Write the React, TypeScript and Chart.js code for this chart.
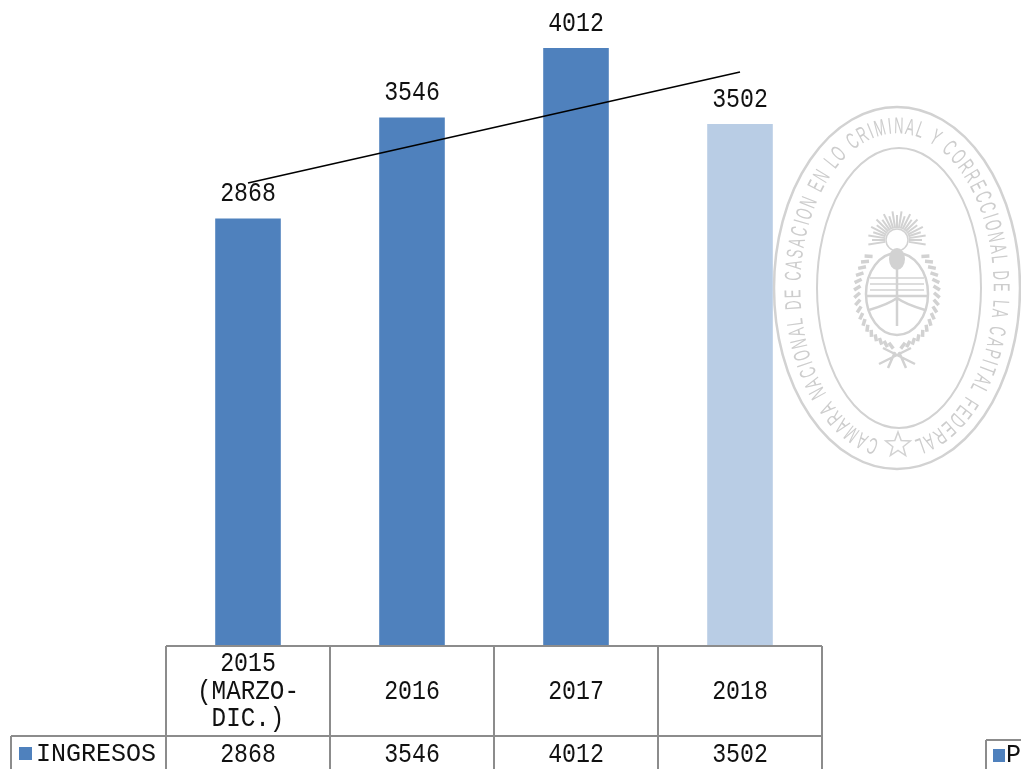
import React, { useEffect, useRef } from "react";
import { Chart, registerables } from "chart.js";

Chart.register(...registerables);

const categories: string[][] = [["2015", "(MARZO-", "DIC.)"], ["2016"], ["2017"], ["2018"]];
const ingresos: number[] = [2868, 3546, 4012, 3502];
const trendEnds: (number | null)[] = [3106, null, null, 3851];
const barColors: string[] = ["#4F81BD", "#4F81BD", "#4F81BD", "#B9CDE5"];
const seriesName = "INGRESOS";
const clippedLegendText = "P";
const stampText = "CAMARA NACIONAL DE CASACION EN LO CRIMINAL Y CORRECCIONAL DE LA CAPITAL FEDERAL";

const FONT = '"Liberation Mono", monospace';
const GRID = "#8C8C8C";
const INK = "#111111";
const STAMP = "#D2D2D2";

// typewriter digits are taller than Liberation Mono's at the same advance
function squeezedText(c: CanvasRenderingContext2D, text: string, x: number, y: number, sx = 0.86) {
  c.save();
  c.translate(x, y);
  c.scale(sx, 1);
  c.font = `27px ${FONT}`;
  c.textAlign = "center";
  c.textBaseline = "middle";
  c.fillText(text, 0, 0);
  c.restore();
}

function drawStar(c: CanvasRenderingContext2D, x: number, y: number, r: number) {
  c.beginPath();
  for (let i = 0; i < 10; i++) {
    const a = -Math.PI / 2 + (i * Math.PI) / 5;
    const rad = i % 2 === 0 ? r : r * 0.42;
    const px = x + rad * Math.cos(a);
    const py = y + rad * Math.sin(a);
    if (i === 0) c.moveTo(px, py);
    else c.lineTo(px, py);
  }
  c.closePath();
  c.stroke();
}

function drawArms(c: CanvasRenderingContext2D, x: number, y: number) {
  c.strokeStyle = STAMP;
  // sun rays
  c.lineWidth = 2;
  for (let i = 0; i <= 22; i++) {
    const a = Math.PI * 0.95 + (i / 22) * Math.PI * 1.1;
    const outer = i % 2 === 0 ? 29 : 25;
    c.beginPath();
    c.moveTo(x + 12 * Math.cos(a), y - 50 + 12 * Math.sin(a));
    c.lineTo(x + outer * Math.cos(a), y - 50 + outer * Math.sin(a));
    c.stroke();
  }
  // sun face
  c.lineWidth = 1.5;
  c.beginPath();
  c.arc(x, y - 50, 11, 0, Math.PI * 2);
  c.stroke();
  // shield
  c.lineWidth = 2.5;
  c.beginPath();
  c.ellipse(x, y + 4, 31, 41, 0, 0, Math.PI * 2);
  c.stroke();
  c.beginPath();
  c.moveTo(x - 31, y + 6);
  c.lineTo(x + 31, y + 6);
  c.stroke();
  // upper band texture
  c.lineWidth = 1.5;
  for (let i = 0; i < 3; i++) {
    c.beginPath();
    c.moveTo(x - 27, y - 12 + i * 6);
    c.lineTo(x + 27, y - 12 + i * 6);
    c.stroke();
  }
  // hands and pike
  c.lineWidth = 2.5;
  c.beginPath();
  c.moveTo(x - 28, y + 20);
  c.quadraticCurveTo(x - 8, y + 14, x, y + 8);
  c.quadraticCurveTo(x + 8, y + 14, x + 28, y + 20);
  c.moveTo(x, y - 26);
  c.lineTo(x, y + 36);
  c.stroke();
  // cap
  c.fillStyle = STAMP;
  c.beginPath();
  c.ellipse(x, y - 31, 8, 11, 0, 0, Math.PI * 2);
  c.fill();
  // wreath
  c.lineWidth = 3.5;
  for (const side of [-1, 1]) {
    for (let i = 0; i < 17; i++) {
      const a = -0.85 + (i / 16) * 2.2;
      const px = x + side * 37 * Math.cos(a);
      const py = y + 4 + 50 * Math.sin(a);
      c.beginPath();
      c.moveTo(px, py);
      c.lineTo(px + side * 8 * Math.cos(a + 0.8), py + 7 * Math.sin(a + 0.8));
      c.stroke();
    }
  }
  // ribbon
  c.lineWidth = 2.5;
  c.beginPath();
  c.moveTo(x - 18, y + 74);
  c.lineTo(x + 14, y + 58);
  c.moveTo(x + 18, y + 74);
  c.lineTo(x - 14, y + 58);
  c.moveTo(x - 2, y + 62);
  c.lineTo(x - 9, y + 78);
  c.moveTo(x + 2, y + 62);
  c.lineTo(x + 9, y + 78);
  c.stroke();
}

function drawStamp(c: CanvasRenderingContext2D) {
  const cx = 897;
  const cy = 288;
  c.save();
  c.strokeStyle = STAMP;
  c.lineWidth = 2.5;
  c.beginPath();
  c.ellipse(cx, cy, 123, 181, 0, 0, Math.PI * 2);
  c.stroke();
  c.lineWidth = 2;
  c.beginPath();
  c.ellipse(cx + 2, cy, 82, 140, 0, 0, Math.PI * 2);
  c.stroke();

  // text along an elliptical path, spaced by arc length
  const rx = 103;
  const ry = 161;
  const steps = 1440;
  const startT = Math.PI / 2 + 0.19;
  const sweep = Math.PI * 2 - 0.38;
  const lengths: number[] = [0];
  const pt = (t: number) => [cx + rx * Math.cos(t), cy + ry * Math.sin(t)];
  for (let i = 1; i <= steps; i++) {
    const [x0, y0] = pt(startT + (sweep * (i - 1)) / steps);
    const [x1, y1] = pt(startT + (sweep * i) / steps);
    lengths.push(lengths[i - 1] + Math.hypot(x1 - x0, y1 - y0));
  }
  const total = lengths[steps];
  c.font = '23px "Liberation Sans", sans-serif';
  c.fillStyle = "#CDCDCD";
  c.textAlign = "center";
  c.textBaseline = "middle";
  const hScale = 0.56;
  const chars = stampText.split("");
  const widths = chars.map((ch) => c.measureText(ch).width * hScale);
  const sum = widths.reduce((a, b) => a + b, 0);
  const gap = (total - sum) / (chars.length - 1);
  let s = 0;
  chars.forEach((ch, i) => {
    const mid = s + widths[i] / 2;
    let k = 0;
    while (k < steps && lengths[k] < mid) k++;
    const t = startT + (sweep * k) / steps;
    const [x, y] = pt(t);
    const ang = Math.atan2(ry * Math.cos(t), -rx * Math.sin(t));
    c.save();
    c.translate(x, y);
    c.rotate(ang);
    c.scale(hScale, 1);
    c.fillText(ch, 0, 0);
    c.restore();
    s += widths[i] + gap;
  });

  c.lineWidth = 1.5;
  drawStar(c, 898, 445, 13);
  drawArms(c, 897, 290);
  c.restore();
}

const stampPlugin = {
  id: "stamp",
  beforeDatasetsDraw(chart: any) {
    drawStamp(chart.ctx);
  },
};

const labelsPlugin = {
  id: "valueLabels",
  afterDatasetsDraw(chart: any) {
    const c: CanvasRenderingContext2D = chart.ctx;
    const meta = chart.getDatasetMeta(1);
    c.save();
    c.fillStyle = INK;
    meta.data.forEach((el: any, i: number) => {
      squeezedText(c, String(ingresos[i]), el.x, el.y - 24.5);
    });
    c.restore();
  },
};

const tablePlugin = {
  id: "dataTable",
  afterDraw(chart: any) {
    const c: CanvasRenderingContext2D = chart.ctx;
    const { left, right, bottom } = chart.chartArea;
    const xs = chart.scales.x;
    const step = (right - left) / categories.length;
    const rowTop = bottom + 90;
    const pageBottom = chart.height + 2;
    c.save();
    c.strokeStyle = GRID;
    c.lineWidth = 2;
    c.beginPath();
    c.moveTo(left, bottom);
    c.lineTo(right, bottom);
    c.moveTo(11, rowTop);
    c.lineTo(right, rowTop);
    c.moveTo(11, rowTop);
    c.lineTo(11, pageBottom);
    for (let i = 0; i <= categories.length; i++) {
      const x = left + i * step;
      c.moveTo(x, bottom);
      c.lineTo(x, pageBottom);
    }
    c.moveTo(986, 740);
    c.lineTo(chart.width, 740);
    c.moveTo(986, 740);
    c.lineTo(986, pageBottom);
    c.stroke();

    c.fillStyle = INK;
    categories.forEach((lines, i) => {
      const x = xs.getPixelForTick(i);
      const midY = bottom + 45.5;
      lines.forEach((ln, j) => {
        const isWord = /[A-Z]/.test(ln);
        squeezedText(c, ln, x, midY + (j - (lines.length - 1) / 2) * 27.5, isWord ? 0.9 : 0.86);
      });
      squeezedText(c, String(ingresos[i]), x, rowTop + 19);
    });

    c.fillStyle = barColors[0];
    c.fillRect(19, 747, 13, 13);
    c.fillRect(993, 749, 12, 13);
    c.fillStyle = INK;
    c.textAlign = "left";
    c.textBaseline = "middle";
    c.font = `25px ${FONT}`;
    c.fillText(seriesName, 36, rowTop + 18);
    c.fillText(clippedLegendText, 1006, rowTop + 19);
    c.restore();
  },
};

export default function App() {
  const ref = useRef<HTMLCanvasElement>(null);
  useEffect(() => {
    document.body.style.margin = "0";
    const chart = new Chart(ref.current!, {
      data: {
        labels: categories.map((l) => l.join(" ")),
        datasets: [
          {
            type: "line",
            data: trendEnds,
            borderColor: "#000000",
            borderWidth: 1.6,
            pointRadius: 0,
            spanGaps: true,
            tension: 0,
            order: 0,
          },
          {
            type: "bar",
            data: ingresos,
            backgroundColor: barColors,
            barPercentage: 0.4,
            categoryPercentage: 1,
            order: 1,
          },
        ],
      } as any,
      options: {
        responsive: false,
        animation: false,
        layout: { padding: { left: 166, right: 199, top: 0, bottom: 123 } },
        plugins: { legend: { display: false }, tooltip: { enabled: false } },
        scales: {
          x: { display: false, offset: true },
          y: { display: false, min: 0, max: 4334 },
        },
      },
      plugins: [stampPlugin, labelsPlugin, tablePlugin],
    } as any);
    return () => chart.destroy();
  }, []);
  return (
    <div style={{ width: 1021, height: 769, overflow: "hidden", background: "#fff" }}>
      <canvas ref={ref} width={1021} height={769} style={{ display: "block" }} />
    </div>
  );
}
